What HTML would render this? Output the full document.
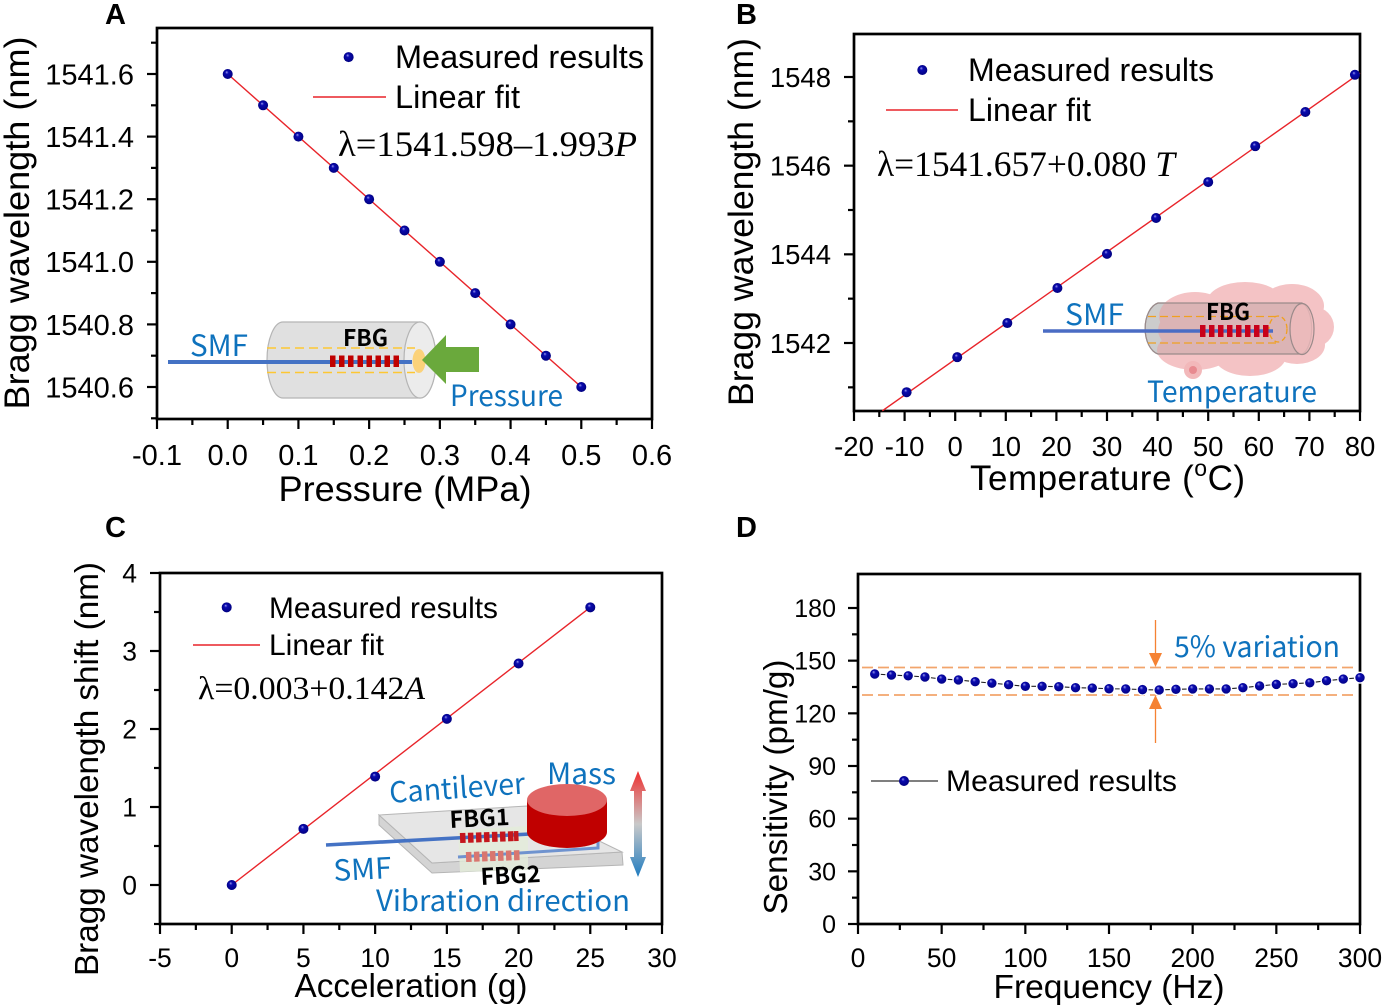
<!DOCTYPE html>
<html lang="en">
<head>
<meta charset="utf-8">
<title>Bragg wavelength sensor characterization</title>
<style>
html,body{margin:0;padding:0;background:#fff;width:1384px;height:1006px;overflow:hidden}
svg{display:block}
text{font-family:"Liberation Sans",Arial,sans-serif;fill:#000}
.eq{font-family:"Liberation Serif","Times New Roman",serif;font-size:36px}
.note{font-family:"Noto Sans CJK SC","Liberation Sans",sans-serif;fill:#0e72bd}
.fbg{font-family:"Noto Sans CJK SC","Liberation Sans",sans-serif;font-weight:700;fill:#000}
.letter{font-weight:700;font-size:29px}
</style>
</head>
<body>
<svg id="figure" xmlns="http://www.w3.org/2000/svg" width="1384" height="1006" viewBox="0 0 1384 1006">
<defs>
<radialGradient id="sphere" cx="0.5" cy="0.5" r="0.55" fx="0.38" fy="0.3">
<stop offset="0" stop-color="#a0a0ee"/><stop offset="0.3" stop-color="#0a0ab0"/><stop offset="1" stop-color="#00007c"/>
</radialGradient>
<linearGradient id="vibe" x1="0" y1="0" x2="0" y2="1">
<stop offset="0" stop-color="#ef2f2f"/><stop offset="0.5" stop-color="#c9c9c9"/><stop offset="1" stop-color="#1f7cc0"/>
</linearGradient>
</defs>

<text class="letter" x="105" y="24">A</text>
<text class="letter" x="736" y="24">B</text>
<text class="letter" x="105" y="537">C</text>
<text class="letter" x="736" y="537">D</text>

<!-- Panel A titles and legend -->
<text transform="translate(29,223) rotate(-90)" text-anchor="middle" font-size="35.5" textLength="373" lengthAdjust="spacingAndGlyphs">Bragg wavelength (nm)</text>
<text x="405" y="501" text-anchor="middle" font-size="35.5" textLength="253" lengthAdjust="spacingAndGlyphs">Pressure (MPa)</text>
<text x="395" y="68" font-size="32" textLength="249" lengthAdjust="spacingAndGlyphs">Measured results</text>
<line x1="313" y1="97" x2="386" y2="97" stroke="#e8242a" stroke-width="1.4"/>
<text x="395" y="108" font-size="32" textLength="125" lengthAdjust="spacingAndGlyphs">Linear fit</text>
<text class="eq" x="338" y="156" textLength="299" lengthAdjust="spacingAndGlyphs">λ=1541.598–1.993<tspan font-style="italic">P</tspan></text>

<!-- Panel A inset -->
<g>
<path d="M283,322 L420,322 A16,38 0 0 1 420,398 L283,398 A16,38 0 0 1 283,322 Z" fill="#e0e0e0" stroke="#b5b5b5" stroke-width="1.2"/>
<ellipse cx="420" cy="360" rx="16" ry="38" fill="#ececec" stroke="#b5b5b5" stroke-width="1.2"/>
<line x1="267" y1="348" x2="415" y2="348" stroke="#fdc733" stroke-width="1.4" stroke-dasharray="9 5"/>
<line x1="267" y1="372.5" x2="415" y2="372.5" stroke="#fdc733" stroke-width="1.4" stroke-dasharray="9 5"/>
<line x1="168" y1="362" x2="412" y2="362" stroke="#4472c4" stroke-width="4"/>
<path d="M330,355.5h5.500v11.500h-5.500zM339,355.5h5.500v11.500h-5.500zM348,355.5h5.500v11.500h-5.500zM357.5,355.5h5.500v11.500h-5.500zM366.5,355.5h5.500v11.500h-5.500zM375.5,355.5h5.500v11.500h-5.500zM384.5,355.5h5.500v11.500h-5.500zM393.5,355.5h5.500v11.500h-5.500z" fill="#c00000"/>
<ellipse cx="419" cy="361" rx="6.5" ry="12" fill="#fbd27a"/>
<polygon points="422,360 446,335 446,347 479,347 479,372 446,372 446,384" fill="#6aa93c"/>
<text class="fbg" x="343" y="346" font-size="23" textLength="45" lengthAdjust="spacingAndGlyphs">FBG</text>
<text class="note" x="190" y="356" font-size="29" textLength="58" lengthAdjust="spacingAndGlyphs">SMF</text>
<text class="note" x="450" y="406" font-size="29" textLength="113" lengthAdjust="spacingAndGlyphs">Pressure</text>
</g>

<!-- Panel B titles and legend -->
<text transform="translate(753,222) rotate(-90)" text-anchor="middle" font-size="35.5" textLength="368" lengthAdjust="spacingAndGlyphs">Bragg wavelength (nm)</text>
<text x="970" y="490" font-size="35" textLength="275" lengthAdjust="spacing">Temperature (<tspan font-size="23" dy="-14">o</tspan><tspan dy="14">C)</tspan></text>
<text x="968" y="81" font-size="32" textLength="246" lengthAdjust="spacingAndGlyphs">Measured results</text>
<line x1="886" y1="110" x2="958" y2="110" stroke="#e8242a" stroke-width="1.4"/>
<text x="968" y="121" font-size="32" textLength="123" lengthAdjust="spacingAndGlyphs">Linear fit</text>
<text class="eq" x="877" y="176" textLength="298" lengthAdjust="spacingAndGlyphs">λ=1541.657+0.080 <tspan font-style="italic">T</tspan></text>

<!-- Panel B inset -->
<g>
<path d="M1158,303 L1302,303 A12,26 0 0 1 1302,354 L1158,354 A16,26 0 0 1 1158,303 Z" fill="#e2e2e2" stroke="#a8a8a8" stroke-width="1.2"/>
<g fill="#f4c3c5">
<ellipse cx="1240" cy="330" rx="82" ry="34"/>
<ellipse cx="1195" cy="316" rx="36" ry="24"/>
<ellipse cx="1245" cy="302" rx="38" ry="20"/>
<ellipse cx="1292" cy="306" rx="32" ry="22"/>
<ellipse cx="1314" cy="327" rx="20" ry="20"/>
<ellipse cx="1297" cy="345" rx="28" ry="19"/>
<ellipse cx="1250" cy="356" rx="36" ry="20"/>
<ellipse cx="1195" cy="350" rx="38" ry="20"/>
</g>
<path d="M1158,303 L1302,303 A12,26 0 0 1 1302,354 L1158,354 A16,26 0 0 1 1158,303 Z" fill="#7a7a7a" fill-opacity="0.2" stroke="#9a8a8a" stroke-width="1.2"/>
<ellipse cx="1302" cy="329" rx="12" ry="25.5" fill="#f0bcbe" fill-opacity="0.75" stroke="#9a8a8a" stroke-width="1.2"/>
<line x1="1148" y1="316.5" x2="1280" y2="316.5" stroke="#f0a020" stroke-width="1.3" stroke-dasharray="8 4"/>
<line x1="1148" y1="343" x2="1280" y2="343" stroke="#f0a020" stroke-width="1.3" stroke-dasharray="8 4"/>
<ellipse cx="1278" cy="329" rx="9" ry="13" fill="none" stroke="#f0a020" stroke-width="1.3" stroke-dasharray="5 3"/>
<line x1="1043" y1="331" x2="1273" y2="331" stroke="#4a6cc4" stroke-width="3.6"/>
<path d="M1200,325h5.500v12h-5.500zM1209,325h5.500v12h-5.500zM1218,325h5.500v12h-5.500zM1227,325h5.500v12h-5.500zM1236,325h5.500v12h-5.500zM1245,325h5.500v12h-5.500zM1254,325h5.500v12h-5.500zM1263,325h5.500v12h-5.500z" fill="#c8001a"/>
<circle cx="1193" cy="370" r="9" fill="#f2b8ba"/>
<circle cx="1193" cy="370" r="4" fill="#e88a90"/>
<text class="fbg" x="1206" y="320" font-size="23" textLength="44" lengthAdjust="spacingAndGlyphs">FBG</text>
<text class="note" x="1065" y="325" font-size="29" textLength="59" lengthAdjust="spacingAndGlyphs">SMF</text>
<text class="note" x="1147" y="402" font-size="29" textLength="170" lengthAdjust="spacingAndGlyphs">Temperature</text>
</g>

<!-- Panel C titles and legend -->
<text transform="translate(98,769) rotate(-90)" text-anchor="middle" font-size="33" textLength="414" lengthAdjust="spacingAndGlyphs">Bragg wavelength shift (nm)</text>
<text x="411" y="997" text-anchor="middle" font-size="33" textLength="233" lengthAdjust="spacingAndGlyphs">Acceleration (g)</text>
<text x="269" y="618" font-size="30" textLength="229" lengthAdjust="spacingAndGlyphs">Measured results</text>
<line x1="193" y1="645" x2="260" y2="645" stroke="#e8242a" stroke-width="1.4"/>
<text x="269" y="655" font-size="30" textLength="115" lengthAdjust="spacingAndGlyphs">Linear fit</text>
<text class="eq" x="198" y="699" style="font-size:33px" textLength="227" lengthAdjust="spacingAndGlyphs">λ=0.003+0.142<tspan font-style="italic">A</tspan></text>

<!-- Panel C inset -->
<g>
<polygon points="379,815 379,825 432,873 623,865 622,852 432,863" fill="#d4d4d4" stroke="#b5b5b5" stroke-width="1"/>
<polygon points="379,815 527,806 622,852 432,863" fill="#e6e6e6" stroke="#b5b5b5" stroke-width="1"/>
<polygon points="458,830 528,826 528,870 460,872" fill="#e3ecd9" fill-opacity="0.8"/>
<line x1="326" y1="845" x2="530" y2="834" stroke="#4472c4" stroke-width="3.6"/>
<polyline points="458,857 598,848 598,838" fill="none" stroke="#6f93cf" stroke-width="3"/>
<g transform="rotate(-2 490 837)" fill="#c4161c">
<path d="M460,832h5.500v10h-5.500zM468,832h5.500v10h-5.500zM476,832h5.500v10h-5.500zM484,832h5.500v10h-5.500zM492,832h5.500v10h-5.500zM500,832h5.500v10h-5.500zM508,832h5.500v10h-5.500zM514,832h4.500v10h-4.500z"/>
</g>
<g transform="rotate(-2 495 856)" fill="#d9766f">
<path d="M466,851h5.500v10h-5.500zM474,851h5.500v10h-5.500zM482,851h5.500v10h-5.500zM490,851h5.500v10h-5.500zM498,851h5.500v10h-5.500zM506,851h5.500v10h-5.500zM514,851h5.500v10h-5.500z"/>
</g>
<path d="M527,800 L527,832 A40,16 0 0 0 607,832 L607,800 Z" fill="#c00000"/>
<ellipse cx="567" cy="800" rx="40" ry="16" fill="#e06666"/>
<path d="M638,771 L646,791 L642,791 L642,857 L646,857 L638,877 L630,857 L634,857 L634,791 L630,791 Z" fill="url(#vibe)"/>
<text class="note" transform="translate(390,803) rotate(-4)" font-size="29" textLength="136" lengthAdjust="spacingAndGlyphs">Cantilever</text>
<text class="note" x="547" y="784" font-size="29" textLength="69" lengthAdjust="spacingAndGlyphs">Mass</text>
<text class="note" transform="translate(334,881) rotate(-3)" font-size="29" textLength="58" lengthAdjust="spacingAndGlyphs">SMF</text>
<text class="fbg" transform="translate(450,828) rotate(-3)" font-size="23" textLength="60" lengthAdjust="spacingAndGlyphs">FBG1</text>
<text class="fbg" transform="translate(481,885) rotate(-3)" font-size="23" textLength="60" lengthAdjust="spacingAndGlyphs">FBG2</text>
<text class="note" x="376" y="911" font-size="29" textLength="254" lengthAdjust="spacingAndGlyphs">Vibration direction</text>
</g>

<!-- Panel D titles and legend -->
<text transform="translate(787,787) rotate(-90)" text-anchor="middle" font-size="33" textLength="255" lengthAdjust="spacingAndGlyphs">Sensitivity (pm/g)</text>
<text x="1109" y="998" text-anchor="middle" font-size="33" textLength="231" lengthAdjust="spacingAndGlyphs">Frequency (Hz)</text>
<line x1="871" y1="781" x2="938" y2="781" stroke="#333" stroke-width="1.2"/>
<circle cx="904" cy="781" r="5" fill="url(#sphere)"/>
<text x="946" y="791" font-size="30" textLength="231" lengthAdjust="spacingAndGlyphs">Measured results</text>
<g>
<line x1="862" y1="667.5" x2="1358" y2="667.5" stroke="#f2a56c" stroke-width="1.7" stroke-dasharray="11 5"/>
<line x1="862" y1="695" x2="1358" y2="695" stroke="#f2a56c" stroke-width="1.7" stroke-dasharray="11 5"/>
<line x1="1155.500" y1="620" x2="1155.500" y2="655" stroke="#f58233" stroke-width="1.3"/>
<polygon points="1149,653 1162,653 1155.500,667" fill="#f58233"/>
<line x1="1155.500" y1="708" x2="1155.500" y2="743" stroke="#f58233" stroke-width="1.3"/>
<polygon points="1149,709 1162,709 1155.500,695" fill="#f58233"/>
<text class="note" x="1174" y="657" font-size="29" textLength="166" lengthAdjust="spacingAndGlyphs">5% variation</text>
</g>

<g id="marks"></g>
</svg>

<script>
// Panel A: pressure
const aPressure = [0, 0.05, 0.1, 0.15, 0.2, 0.25, 0.3, 0.35, 0.4, 0.45, 0.5];
const aWavelength = [1541.6, 1541.5, 1541.4, 1541.3, 1541.2, 1541.1, 1541.0, 1540.9, 1540.8, 1540.7, 1540.6];
const aFitX = [0, 0.5];
const aFitY = [1541.6, 1540.6];
const aXTicks = [-0.1, 0, 0.1, 0.2, 0.3, 0.4, 0.5, 0.6];
const aXMinor = [-0.05, 0.05, 0.15, 0.25, 0.35, 0.45, 0.55];
const aXLabels = ['-0.1', '0.0', '0.1', '0.2', '0.3', '0.4', '0.5', '0.6'];
const aYTicks = [1540.6, 1540.8, 1541.0, 1541.2, 1541.4, 1541.6];
const aYMinor = [1540.5, 1540.7, 1540.9, 1541.1, 1541.3, 1541.5, 1541.7];
const aYLabels = ['1540.6', '1540.8', '1541.0', '1541.2', '1541.4', '1541.6'];
const aLegendPoint = [0.171, 1541.654];

// Panel B: temperature
const bTemperature = [-9.6, 0.4, 10.3, 20.2, 30, 39.7, 50, 59.3, 69.2, 79];
const bWavelength = [1540.89, 1541.68, 1542.45, 1543.24, 1544.01, 1544.82, 1545.63, 1546.44, 1547.21, 1548.05];
const bFitX = [-14.4, 80];
const bFitY = [1540.47, 1548.09];
const bXTicks = [-20, -10, 0, 10, 20, 30, 40, 50, 60, 70, 80];
const bXMinor = [-15, -5, 5, 15, 25, 35, 45, 55, 65, 75];
const bXLabels = ['-20', '-10', '0', '10', '20', '30', '40', '50', '60', '70', '80'];
const bYTicks = [1542, 1544, 1546, 1548];
const bYMinor = [1541, 1543, 1545, 1547];
const bYLabels = ['1542', '1544', '1546', '1548'];
const bLegendPoint = [-6.5, 1548.158];

// Panel C: acceleration
const cAcceleration = [0, 5, 10, 15, 20, 25];
const cShift = [0.0, 0.72, 1.39, 2.13, 2.84, 3.56];
const cFitX = [0, 25];
const cFitY = [0.0, 3.56];
const cXTicks = [-5, 0, 5, 10, 15, 20, 25, 30];
const cXMinor = [-2.5, 2.5, 7.5, 12.5, 17.5, 22.5, 27.5];
const cXLabels = ['-5', '0', '5', '10', '15', '20', '25', '30'];
const cYTicks = [0, 1, 2, 3, 4];
const cYMinor = [-0.5, 0.5, 1.5, 2.5, 3.5];
const cYLabels = ['0', '1', '2', '3', '4'];
const cLegendPoint = [-0.35, 3.56];

// Panel D: frequency response
const dFrequency = [10, 20, 30, 40, 50, 60, 70, 80, 90, 100, 110, 120, 130, 140, 150, 160, 170, 180, 190, 200, 210, 220, 230, 240, 250, 260, 270, 280, 290, 300];
const dSensitivity = [142.4, 141.8, 141.4, 140.7, 139.5, 139, 138, 137.2, 136.3, 135.4, 135.4, 135.2, 134.6, 134.4, 134, 133.9, 133.5, 133.3, 133.7, 133.9, 133.9, 133.9, 134.6, 135.6, 136.5, 136.9, 137.4, 138.6, 139.5, 140.3];
const dXTicks = [0, 50, 100, 150, 200, 250, 300];
const dXMinor = [25, 75, 125, 175, 225, 275];
const dXLabels = ['0', '50', '100', '150', '200', '250', '300'];
const dYTicks = [0, 30, 60, 90, 120, 150, 180];
const dYMinor = [15, 45, 75, 105, 135, 165];
const dYLabels = ['0', '30', '60', '90', '120', '150', '180'];

const NS = 'http://www.w3.org/2000/svg';
const root = document.getElementById('marks');

function make(parent, tag, attrs) {
  const el = document.createElementNS(NS, tag);
  for (const key in attrs) el.setAttribute(key, attrs[key]);
  parent.appendChild(el);
  return el;
}

function linear(d0, d1, p0, p1) {
  return function (v) { return p0 + (v - d0) * (p1 - p0) / (d1 - d0); };
}

function drawAxes(p, xTicks, xMinor, xLabels, yTicks, yMinor, yLabels) {
  const g = make(root, 'g', {});
  
  
  const frame = make(g, 'rect', { x: p.left, y: p.top, width: p.right - p.left, height: p.bottom - p.top, fill: 'none', stroke: '#000', 'stroke-width': 2.7 });
  
  
  xTicks.forEach(function (v, i) {
    const px = p.x(v);
    const tick = make(g, 'line', { x1: px, x2: px, y1: p.bottom, y2: p.bottom + 10, stroke: '#000', 'stroke-width': 2.2 });
    
    
    const label = make(g, 'text', { x: px, y: p.xLabelY, 'text-anchor': 'middle', 'font-size': p.tickFont });
    label.textContent = xLabels[i];
    
    
  });
  xMinor.forEach(function (v) {
    const px = p.x(v);
    const tick = make(g, 'line', { x1: px, x2: px, y1: p.bottom, y2: p.bottom + 6, stroke: '#000', 'stroke-width': 2.2 });
    
    
  });
  yTicks.forEach(function (v, i) {
    const py = p.y(v);
    const tick = make(g, 'line', { x1: p.left - 10, x2: p.left, y1: py, y2: py, stroke: '#000', 'stroke-width': 2.2 });
    
    
    const label = make(g, 'text', { x: p.left - p.yLabelGap, y: py + p.yTickFont * 0.36, 'text-anchor': 'end', 'font-size': p.yTickFont });
    label.textContent = yLabels[i];
    
    
  });
  yMinor.forEach(function (v) {
    const py = p.y(v);
    const tick = make(g, 'line', { x1: p.left - 6, x2: p.left, y1: py, y2: py, stroke: '#000', 'stroke-width': 2.2 });
    
    
  });
}

function drawLine(p, xs, ys, color, width, name) {
  const pts = xs.map(function (v, i) { return p.x(v) + ',' + p.y(ys[i]); }).join(' ');
  const line = make(root, 'polyline', { points: pts, fill: 'none', stroke: color, 'stroke-width': width });
  
  
}

function drawPoints(p, xs, ys, halo) {
  xs.forEach(function (v, i) {
    const attrs = { cx: p.x(v), cy: p.y(ys[i]), r: 5, fill: 'url(#sphere)' };
    if (halo) { attrs.stroke = '#fff'; attrs['stroke-width'] = 1.4; attrs.r = 5.4; }
    const dot = make(root, 'circle', attrs);
    
    
  });
}

const panelA = { id: 'a', left: 157, right: 652, top: 28, bottom: 419, tickFont: 29, yTickFont: 29, yLabelGap: 23, xLabelY: 465,
  x: linear(-0.1, 0.6, 157, 652), y: linear(1540.6, 1541.6, 387, 74) };
const panelB = { id: 'b', left: 854, right: 1360, top: 34, bottom: 411, tickFont: 27.5, yTickFont: 27.5, yLabelGap: 23, xLabelY: 456,
  x: linear(-20, 80, 854, 1360), y: linear(1542, 1548, 343, 77) };
const panelC = { id: 'c', left: 160, right: 662, top: 573, bottom: 924, tickFont: 26.5, yTickFont: 26.5, yLabelGap: 23, xLabelY: 967,
  x: linear(-5, 30, 160, 662), y: linear(0, 4, 885, 573) };
const panelD = { id: 'd', left: 858, right: 1360, top: 574, bottom: 924, tickFont: 26.5, yTickFont: 25, yLabelGap: 22, xLabelY: 967,
  x: linear(0, 300, 858, 1360), y: linear(0, 180, 924, 608) };

drawAxes(panelA, aXTicks, aXMinor, aXLabels, aYTicks, aYMinor, aYLabels);
drawLine(panelA, aFitX, aFitY, '#e8242a', 1.4, 'a-linear-fit-line');
drawPoints(panelA, aPressure, aWavelength, false);
drawPoints(panelA, [aLegendPoint[0]], [aLegendPoint[1]], false);

drawAxes(panelB, bXTicks, bXMinor, bXLabels, bYTicks, bYMinor, bYLabels);
drawLine(panelB, bFitX, bFitY, '#e8242a', 1.4, 'b-linear-fit-line');
drawPoints(panelB, bTemperature, bWavelength, false);
drawPoints(panelB, [bLegendPoint[0]], [bLegendPoint[1]], false);

drawAxes(panelC, cXTicks, cXMinor, cXLabels, cYTicks, cYMinor, cYLabels);
drawLine(panelC, cFitX, cFitY, '#e8242a', 1.4, 'c-linear-fit-line');
drawPoints(panelC, cAcceleration, cShift, false);
drawPoints(panelC, [cLegendPoint[0]], [cLegendPoint[1]], false);

drawAxes(panelD, dXTicks, dXMinor, dXLabels, dYTicks, dYMinor, dYLabels);
drawLine(panelD, dFrequency, dSensitivity, '#222', 1.1, 'd-measured-line');
drawPoints(panelD, dFrequency, dSensitivity, true);
</script>
</body>
</html>
